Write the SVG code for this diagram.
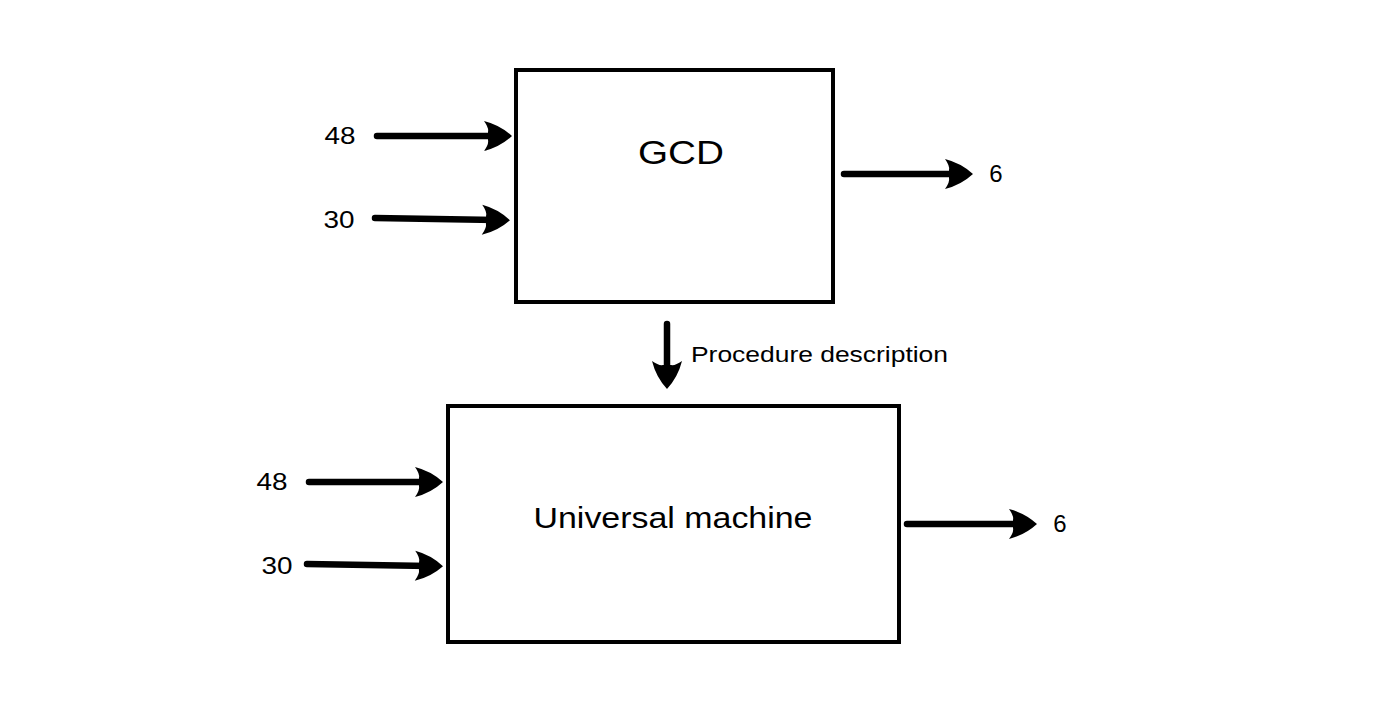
<svg xmlns="http://www.w3.org/2000/svg" width="1400" height="708" viewBox="0 0 1400 708">
<style>
.box{fill:#fff;stroke:#000;stroke-width:4}
.lbl{font-family:"Liberation Sans",Arial,sans-serif;fill:#000}
.edge{stroke:#000;stroke-width:6.5;stroke-linecap:round;fill:none}
</style>
<defs>
<marker id="ah" markerUnits="userSpaceOnUse" viewBox="0 0 30 32" refX="16" refY="16" markerWidth="30" markerHeight="32" orient="auto">
<path d="M2,1 Q18,5 30,16 Q18,27 2,31 Q7,24 6,20 L6,12 Q7,8 2,1 Z" fill="#000"/>
</marker>
</defs>
<rect width="1400" height="708" fill="#fff"/>
<g id="gcd">
<rect class="box" x="516" y="70" width="317" height="232"/>
<text class="lbl" x="681" y="164" font-size="34" text-anchor="middle" textLength="86" lengthAdjust="spacingAndGlyphs">GCD</text>
</g>
<g id="universal">
<rect class="box" x="448" y="406" width="451" height="236"/>
<text class="lbl" x="673" y="528" font-size="30" text-anchor="middle" textLength="279" lengthAdjust="spacingAndGlyphs">Universal machine</text>
</g>
<g id="labels">
<text class="lbl" x="340" y="144" font-size="24" text-anchor="middle" textLength="31" lengthAdjust="spacingAndGlyphs">48</text>
<text class="lbl" x="339" y="228" font-size="24" text-anchor="middle" textLength="31" lengthAdjust="spacingAndGlyphs">30</text>
<text class="lbl" x="996" y="182" font-size="24" text-anchor="middle">6</text>
<text class="lbl" x="272" y="490" font-size="24" text-anchor="middle" textLength="31" lengthAdjust="spacingAndGlyphs">48</text>
<text class="lbl" x="277" y="574" font-size="24" text-anchor="middle" textLength="31" lengthAdjust="spacingAndGlyphs">30</text>
<text class="lbl" x="1060" y="532" font-size="24" text-anchor="middle">6</text>
<text class="lbl" x="691" y="362" font-size="22" textLength="257" lengthAdjust="spacingAndGlyphs">Procedure description</text>
</g>
<g id="connectors">
<line class="edge" x1="377" y1="136" x2="498" y2="136" marker-end="url(#ah)"/>
<line class="edge" x1="375" y1="218" x2="496" y2="220" marker-end="url(#ah)"/>
<line class="edge" x1="844" y1="174" x2="959" y2="174" marker-end="url(#ah)"/>
<line class="edge" x1="667" y1="324" x2="667" y2="375" marker-end="url(#ah)"/>
<line class="edge" x1="309" y1="482" x2="429" y2="482" marker-end="url(#ah)"/>
<line class="edge" x1="307" y1="564" x2="429" y2="566" marker-end="url(#ah)"/>
<line class="edge" x1="907" y1="524" x2="1023" y2="524" marker-end="url(#ah)"/>
</g>
</svg>
